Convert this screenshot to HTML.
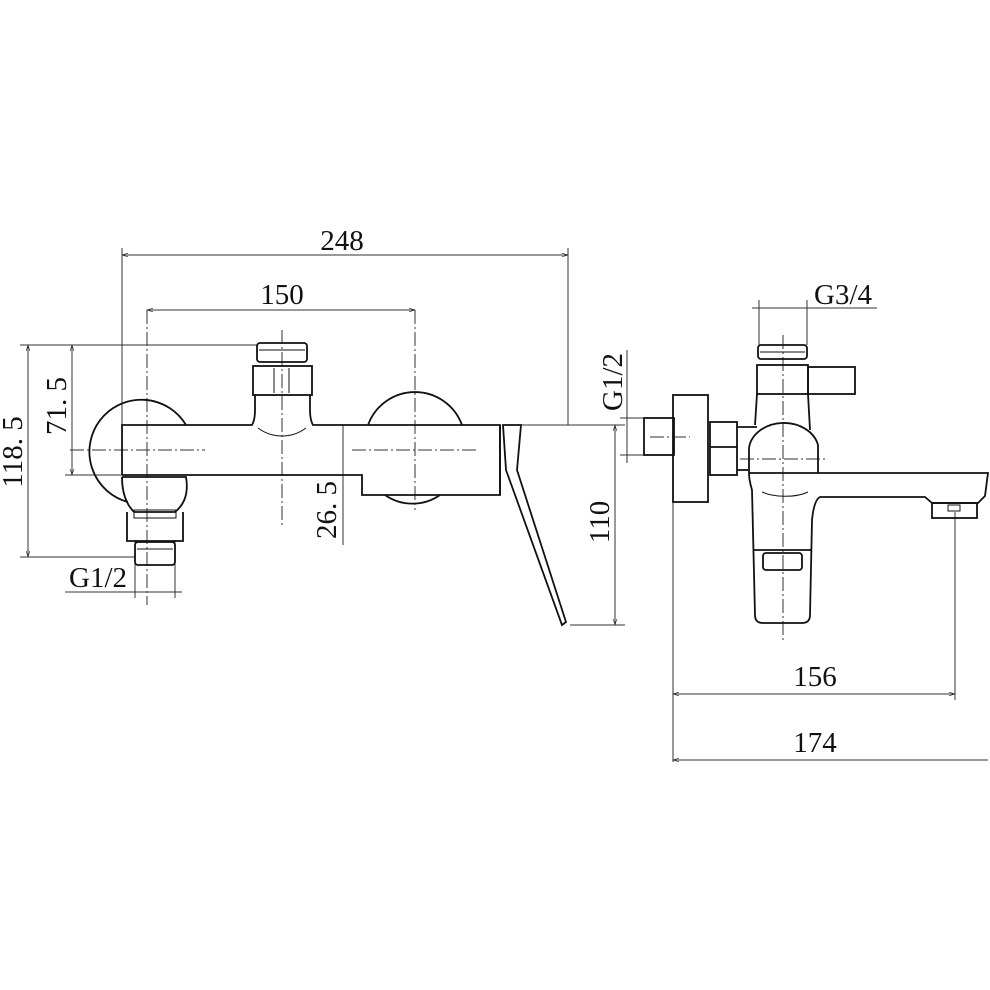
<!DOCTYPE html>
<html><head><style>body{margin:0;background:#fff}svg{display:block}text{font-family:"Liberation Serif",serif;font-size:29px;fill:#111}</style></head>
<body>
<svg width="990" height="990" viewBox="0 0 990 990" xmlns="http://www.w3.org/2000/svg">
<defs><marker id="a" viewBox="0 0 10 10" refX="10" refY="5" markerWidth="8" markerHeight="6" orient="auto-start-reverse"><path d="M0,2 L10,5 L0,8" fill="none" stroke="#222" stroke-width="1"/></marker></defs>
<g stroke="#333" stroke-width="1" fill="none">
<line x1="122" y1="255" x2="568" y2="255" marker-start="url(#a)" marker-end="url(#a)"/>
<line x1="122" y1="248" x2="122" y2="430"/><line x1="568" y1="248" x2="568" y2="425"/>
<line x1="147" y1="310" x2="415" y2="310" marker-start="url(#a)" marker-end="url(#a)"/>
<line x1="28" y1="345" x2="28" y2="557" marker-start="url(#a)" marker-end="url(#a)"/>
<line x1="72" y1="345" x2="72" y2="475" marker-start="url(#a)" marker-end="url(#a)"/>
<line x1="20" y1="345" x2="258" y2="345"/><line x1="65" y1="475" x2="122" y2="475"/><line x1="20" y1="557" x2="135" y2="557"/>
<line x1="343" y1="425" x2="343" y2="545"/>
<line x1="65" y1="592" x2="182" y2="592"/><line x1="135" y1="540" x2="135" y2="598"/><line x1="175" y1="540" x2="175" y2="598"/>
<line x1="615" y1="425" x2="615" y2="625" marker-start="url(#a)" marker-end="url(#a)"/>
<line x1="520" y1="425" x2="625" y2="425"/><line x1="570" y1="625" x2="625" y2="625"/>
<g stroke-dasharray="14,3,2,3">
<line x1="147" y1="310" x2="147" y2="605"/><line x1="415" y1="310" x2="415" y2="510"/>
<line x1="282" y1="330" x2="282" y2="525"/>
<line x1="70" y1="450" x2="205" y2="450"/><line x1="352" y1="450" x2="478" y2="450"/>
<line x1="783" y1="335" x2="783" y2="640"/>
<line x1="740" y1="459" x2="825" y2="459"/><line x1="650" y1="437" x2="690" y2="437"/>
</g>
<line x1="627" y1="350" x2="627" y2="463"/>
<line x1="620" y1="418" x2="650" y2="418"/><line x1="620" y1="455" x2="650" y2="455"/>
<line x1="752" y1="308" x2="877" y2="308"/><line x1="759" y1="300" x2="759" y2="345"/><line x1="807" y1="300" x2="807" y2="345"/>
<line x1="673" y1="694" x2="955" y2="694" marker-start="url(#a)" marker-end="url(#a)"/>
<line x1="673" y1="760" x2="988" y2="760" marker-start="url(#a)"/>
<line x1="673" y1="500" x2="673" y2="762"/><line x1="955" y1="512" x2="955" y2="700"/>
</g>
<g stroke="#111" stroke-width="1.8" fill="none">
<path d="M122,475 V425 H252 Q255,420 255,410 V395 M310,395 V410 Q310,420 313,425 H500 V495 H362 V475 H122"/>
<path d="M186,425 A52,52 0 1 0 128,502"/>
<path d="M368,425 A50,50 0 0 1 462,425 M385,495 A48,48 0 0 0 440,495"/>
<path d="M258,428 A40,40 0 0 0 306,428" stroke-width="1"/>
<rect x="253" y="366" width="59" height="29"/>
<line x1="274" y1="368" x2="274" y2="393" stroke-width="1"/><line x1="289" y1="368" x2="289" y2="393" stroke-width="1"/>
<rect x="257" y="343" width="50" height="19" rx="3"/><line x1="259" y1="350" x2="305" y2="350" stroke-width="1"/>
<path d="M122,477 H186 Q190,500 175,512 H134 Q122,500 122,477"/>
<path d="M127,512 V541 H183 V512"/>
<rect x="134" y="510" width="42" height="8" stroke-width="1"/>
<rect x="135" y="542" width="40" height="23" rx="3"/><line x1="137" y1="549" x2="173" y2="549" stroke-width="1"/>
<path d="M500,425 V495 M503,425 H521 L517,470 L566,622 L562,625 L506,470 Z"/>
<rect x="758" y="345" width="49" height="14" rx="3"/><line x1="760" y1="352" x2="805" y2="352" stroke-width="1"/>
<rect x="757" y="365" width="51" height="29"/><rect x="808" y="367" width="47" height="27"/>
<line x1="757" y1="394" x2="755" y2="425"/><line x1="808" y1="394" x2="810" y2="430"/>
<rect x="673" y="395" width="35" height="107"/>
<rect x="644" y="418" width="30" height="37"/>
<rect x="710" y="422" width="27" height="53"/><line x1="710" y1="447" x2="737" y2="447"/>
<line x1="737" y1="427" x2="757" y2="427"/><line x1="737" y1="470" x2="749" y2="470"/>
<path d="M749,473 V448 A35,28 0 0 1 818,445 V473"/>
<path d="M749,473 H988 L985,496 L978,503 H932 L925,497 H820 Q814,500 812,520 L810,615 Q810,623 802,623 H763 Q755,623 755,615 L752,490 Q749,480 749,473"/>
<rect x="932" y="503" width="45" height="15"/><rect x="948" y="505" width="12" height="6" stroke-width="1"/>
<path d="M762,492 A30,12 0 0 0 808,492" stroke-width="1"/>
<line x1="753" y1="550" x2="812" y2="550"/>
<rect x="763" y="553" width="39" height="17" rx="3"/>
</g>
<text x="342" y="250" text-anchor="middle">248</text>
<text x="282" y="304" text-anchor="middle">150</text>
<text transform="translate(22,452) rotate(-90)" text-anchor="middle">118. 5</text>
<text transform="translate(66,406) rotate(-90)" text-anchor="middle">71. 5</text>
<text transform="translate(336,510) rotate(-90)" text-anchor="middle">26. 5</text>
<text transform="translate(609,522) rotate(-90)" text-anchor="middle">110</text>
<text transform="translate(622,382) rotate(-90)" text-anchor="middle">G1/2</text>
<text x="98" y="587" text-anchor="middle">G1/2</text>
<text x="843" y="304" text-anchor="middle">G3/4</text>
<text x="815" y="686" text-anchor="middle">156</text>
<text x="815" y="752" text-anchor="middle">174</text>
</svg>
</body></html>
